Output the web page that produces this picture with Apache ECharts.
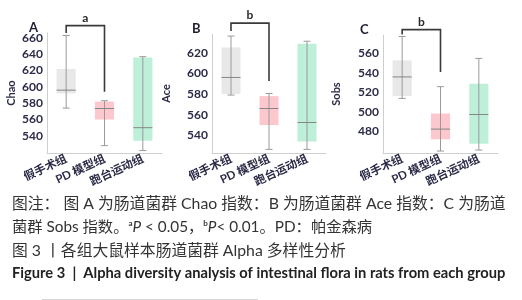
<!DOCTYPE html>
<html><head><meta charset="utf-8">
<script src="https://cdn.jsdelivr.net/npm/echarts@6/dist/echarts.min.js"></script>
<style>html,body{margin:0;padding:0;background:#fff}#c{width:522px;height:300px}</style>
</head><body><div id="c"></div>
<script>
const categories = ['假手术组', 'PD 模型组', '跑台运动组'];
// [min, Q1, median, Q3, max]
const chaoValues = [[574, 592, 596, 622, 663], [528, 560, 573.5, 582, 583], [522, 534, 550, 636, 637]];
const aceValues = [[579, 580, 596, 625, 636], [526.5, 550, 566, 578, 580.5], [526.5, 534, 552.5, 628.5, 631]];
const sobsValues = [[514, 516.5, 536, 553, 577.5], [460, 472, 482.5, 498.5, 526], [461, 467.5, 497.5, 529, 555]];
const chaoTicks = [540, 560, 580, 600, 620, 640, 660];
const aceTicks = [540, 560, 580, 600, 620];
const sobsTicks = [480, 500, 520, 540, 560];
// bracket: [fromGroup, toGroup, topY, leftEndY, rightEndY, label]
const chaoBracket = [0, 1, 675, 666, 594, 'a'];
const aceBracket = [0, 1, 648.5, 641, 592.5, 'b'];
const sobsBracket = [0, 1, 584.5, 579.5, 541, 'b'];
const panelNames = ['Chao', 'Ace', 'Sobs'];
const panelLetters = ['A', 'B', 'C'];
const fills = ['#e8e8e8', '#fcc8ce', '#bdefd9'];

const FONT = 'Lato, "Noto Sans CJK SC", sans-serif';
const chart = echarts.init(document.getElementById('c'));

const panels = [
  {vals: chaoValues, ticks: chaoTicks, br: chaoBracket, min: 519, max: 666, grid: {left: 47, top: 33, width: 115, height: 120}, gap: 30},
  {vals: aceValues, ticks: aceTicks, br: aceBracket, min: 523, max: 638, grid: {left: 212, top: 34, width: 114, height: 119}, gap: 40},
  {vals: sobsValues, ticks: sobsTicks, br: sobsBracket, min: 458, max: 579, grid: {left: 383, top: 35, width: 115, height: 118}, gap: 41}
];

function boxRender(params, api) {
  const i = api.value(0);
  const mn = api.value(1), q1 = api.value(2), md = api.value(3), q3 = api.value(4), mx = api.value(5);
  const band = api.size([1, 0])[0];
  const bw = band * 0.5, cw = 7;
  const pMin = api.coord([i, mn]), pQ1 = api.coord([i, q1]), pMd = api.coord([i, md]), pQ3 = api.coord([i, q3]), pMx = api.coord([i, mx]);
  const x = pMd[0];
  const lc = '#9a9a9a';
  return {type: 'group', children: [
    {type: 'rect', shape: {x: x - bw / 2, y: pQ3[1], width: bw, height: pQ1[1] - pQ3[1]}, style: {fill: fills[i]}},
    {type: 'line', shape: {x1: x, y1: pMx[1], x2: x, y2: pMin[1]}, style: {stroke: lc, lineWidth: 1}},
    {type: 'line', shape: {x1: x - cw / 2, y1: pMx[1], x2: x + cw / 2, y2: pMx[1]}, style: {stroke: lc, lineWidth: 1}},
    {type: 'line', shape: {x1: x - cw / 2, y1: pMin[1], x2: x + cw / 2, y2: pMin[1]}, style: {stroke: lc, lineWidth: 1}},
    {type: 'line', shape: {x1: x - bw / 2, y1: pMd[1], x2: x + bw / 2, y2: pMd[1]}, style: {stroke: '#858585', lineWidth: 1}}
  ]};
}
function bracketRender(params, api) {
  const a = api.coord([api.value(0), api.value(2)]);
  const b = api.coord([api.value(1), api.value(2)]);
  const la = api.coord([api.value(0), api.value(3)]);
  const rb = api.coord([api.value(1), api.value(4)]);
  return {type: 'group', children: [
    {type: 'polyline', shape: {points: [[la[0], la[1]], [a[0], a[1]], [b[0], b[1]], [rb[0], rb[1]]]}, style: {stroke: '#3a3a3a', lineWidth: 1.6, fill: null}},
    {type: 'text', x: (a[0] + b[0]) / 2, y: a[1] - 2, style: {text: params.dataIndex === 0 ? api.value(5) : '', fill: '#2a2a2a', font: 'bold 12px ' + FONT, align: 'center', verticalAlign: 'bottom'}}
  ]};
}

const grid = [], xAxis = [], yAxis = [], series = [], title = [];
panels.forEach((p, k) => {
  grid.push(p.grid);
  xAxis.push({type: 'category', gridIndex: k, data: categories,
    axisLine: {lineStyle: {color: '#cfcfcf'}}, axisTick: {show: false},
    axisLabel: {rotate: 25, margin: 5, interval: 0, color: '#2b2b48', fontSize: 11.5, fontWeight: 'bold', fontFamily: FONT}});
  yAxis.push({type: 'value', gridIndex: k, min: p.min, max: p.max,
    name: panelNames[k], nameLocation: 'middle', nameGap: p.gap, nameRotate: 90,
    nameTextStyle: {color: '#2b2b48', fontSize: 11, fontWeight: 'bold', fontFamily: FONT},
    axisLine: {show: true, lineStyle: {color: '#cfcfcf'}}, axisTick: {show: false}, splitLine: {show: false},
    axisLabel: {customValues: p.ticks, color: '#2b2b48', fontSize: 12, fontWeight: 'bold', fontFamily: FONT, margin: 4}});
  series.push({type: 'custom', xAxisIndex: k, yAxisIndex: k, clip: false, renderItem: boxRender,
    encode: {x: 0, y: [1, 2, 3, 4, 5]},
    data: p.vals.map((v, i) => [i].concat(v))});
  series.push({type: 'custom', xAxisIndex: k, yAxisIndex: k, clip: false, renderItem: bracketRender,
    encode: {x: [0, 1], y: [2, 3, 4]},
    data: [p.br]});
});
title.push({text: 'A', left: 24, top: 16}, {text: 'B', left: 187, top: 17}, {text: 'C', left: 355, top: 18});
title.forEach(t => t.textStyle = {fontSize: 13, fontWeight: 'bold', color: '#1e1e30', fontFamily: FONT});

const capStyle = {fontSize: 15.8, fontFamily: FONT, fill: '#333'};
chart.setOption({
  animation: false,
  title, grid, xAxis, yAxis, series,
  graphic: [
    {type: 'text', left: 12, top: 196, style: Object.assign({text: '图注： 图 A 为肠道菌群 Chao 指数：B 为肠道菌群 Ace 指数：C 为肠道'}, capStyle)},
    {type: 'text', left: 12, top: 219, style: Object.assign({}, capStyle, {
      fontSize: 15.3,
      text: '菌群 Sobs 指数。{s|a}{i|P} < 0.05，{s|b}{i|P}< 0.01。PD：帕金森病',
      rich: {s: {fontSize: 8, verticalAlign: 'top', fontFamily: FONT, fill: '#333', fontWeight: 'bold', padding: [0, 0, 6, 0]},
             i: {fontStyle: 'italic', fontSize: 15.3, fontFamily: FONT, fill: '#333'}}})},
    {type: 'text', left: 12, top: 243, style: Object.assign({}, capStyle, {text: '图 3 丨各组大鼠样本肠道菌群 Alpha 多样性分析'})},
    {type: 'text', left: 12, top: 266, style: {text: 'Figure 3  |  Alpha diversity analysis of intestinal flora in rats from each group', fontSize: 14.7, fontWeight: 'bold', fontFamily: FONT, fill: '#222'}},
    {type: 'line', shape: {x1: 42, y1: 299.5, x2: 258, y2: 299.5}, style: {stroke: '#d8d8d8', lineWidth: 1}}
  ]
});
</script></body></html>
